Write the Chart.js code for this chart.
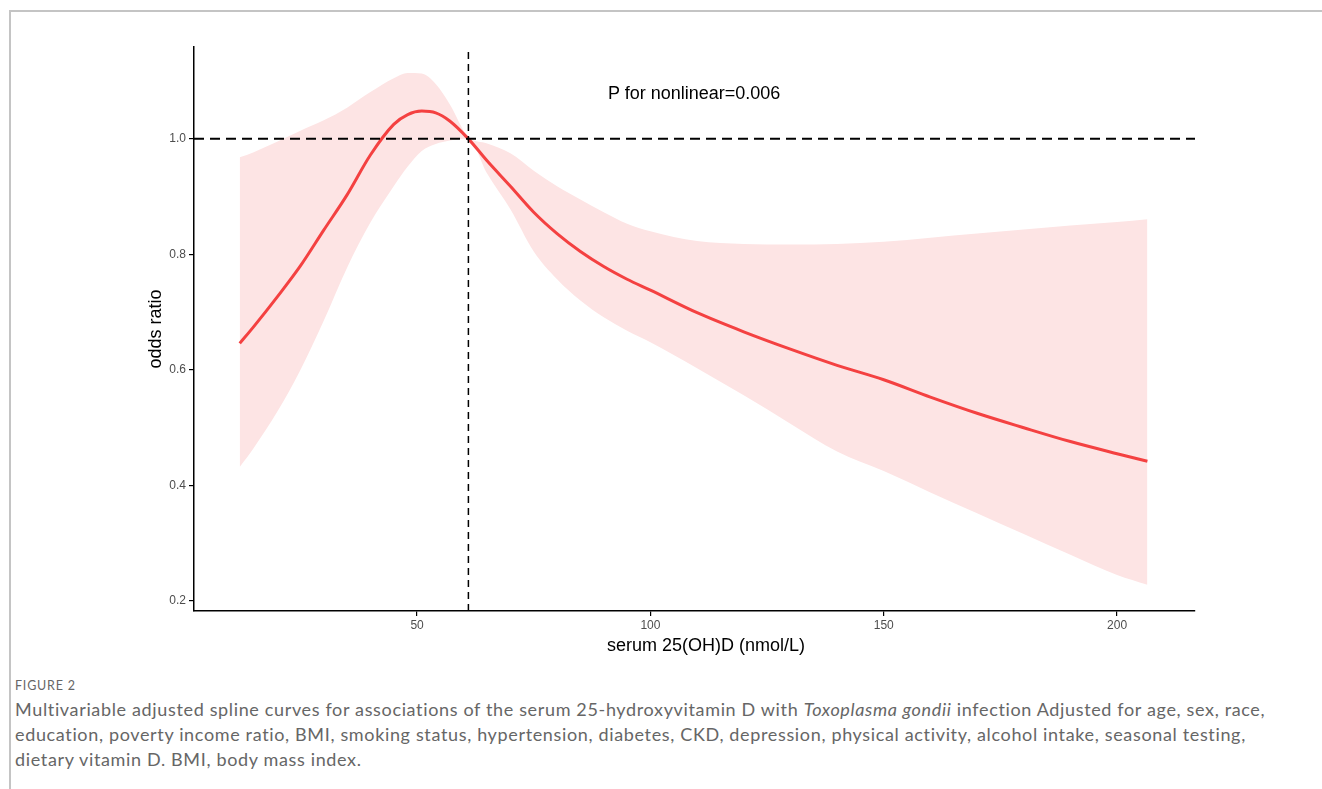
<!DOCTYPE html>
<html>
<head>
<meta charset="utf-8">
<script src="https://cdn.jsdelivr.net/npm/chart.js@4"></script>
<style>
  body { margin: 0; background: #fff; }
  #frame { position: absolute; left: 9px; top: 10px; width: 1400px; height: 900px;
           border-top: 2px solid #c4c4c4; border-left: 2px solid #c4c4c4; }
  #wrap { position: absolute; left: 0; top: 0; width: 1322px; height: 660px; }
  #note { position: absolute; left: 608px; top: 83px; font: 18px/20px "Liberation Sans", Arial, sans-serif; color: #000; }
  #xtitle { position: absolute; left: 506px; width: 400px; top: 635px; text-align: center;
            font: 18px/20px "Liberation Sans", Arial, sans-serif; color: #000; }
  #caption { position: absolute; left: 15px; top: 675px; font-family: Lato, sans-serif; color: #666; }
  #caption .fig { font-size: 12.5px; letter-spacing: 0.8px; line-height: 22px; }
  #caption .txt { font-size: 18px; letter-spacing: 0.65px; line-height: 25px; white-space: nowrap; }
</style>
</head>
<body>
<div id="frame"></div>
<div id="wrap"><canvas id="chart" width="1322" height="660"></canvas></div>
<div id="note">P for nonlinear=0.006</div>
<div id="xtitle">serum 25(OH)D (nmol/L)</div>
<div id="caption">
  <div class="fig">FIGURE 2</div>
  <div class="txt">Multivariable adjusted spline curves for associations of the serum 25-hydroxyvitamin D with <i>Toxoplasma gondii</i> infection Adjusted for age, sex, race,<br>education, poverty income ratio, BMI, smoking status, hypertension, diabetes, CKD, depression, physical activity, alcohol intake, seasonal testing,<br>dietary vitamin D. BMI, body mass index.</div>
</div>
<script>
// serum 25(OH)D values
const vitD = [12, 15, 20, 25, 30, 35, 40, 45, 48, 51, 54, 57, 61, 65, 70, 75, 80, 85, 90, 95, 100,
              110, 120, 130, 140, 150, 160, 170, 180, 190, 200, 206.5];
// odds ratio curve
const oddsRatio = [0.646, 0.675, 0.726, 0.780, 0.842, 0.903, 0.972, 1.025, 1.042, 1.048, 1.045, 1.031, 1.000,
                   0.962, 0.918, 0.873, 0.836, 0.805, 0.779, 0.757, 0.738,
                   0.699, 0.666, 0.636, 0.608, 0.583, 0.553, 0.525, 0.500, 0.476, 0.455, 0.442];
// 95% CI
const upperCI = [0.968, 0.977, 0.995, 1.014, 1.032, 1.054, 1.081, 1.105, 1.114, 1.113, 1.095, 1.060, 1.003,
                 0.992, 0.975, 0.945, 0.918, 0.895, 0.873, 0.853, 0.840,
                 0.823, 0.818, 0.817, 0.818, 0.822, 0.829, 0.836, 0.843, 0.850, 0.856, 0.861];
const lowerCI = [0.432, 0.465, 0.527, 0.600, 0.685, 0.777, 0.855, 0.918, 0.952, 0.979, 0.991, 0.997, 1.000,
                 0.940, 0.878, 0.805, 0.757, 0.720, 0.691, 0.668, 0.648,
                 0.603, 0.556, 0.507, 0.459, 0.425, 0.388, 0.352, 0.316, 0.280, 0.245, 0.228];
const refX = 61;      // reference value
const refY = 1.0;
const xMin = 2.2, xMax = 216.7;
const yMin = 0.1827, yMax = 1.159;
const yTicks = [0.2, 0.4, 0.6, 0.8, 1.0];
const xTicks = [50, 100, 150, 200];

const pts = ys => vitD.map((x, i) => ({ x: x, y: ys[i] }));

new Chart(document.getElementById('chart'), {
    type: 'line',
    data: {
        datasets: [
            {   // horizontal ref line
                data: [{ x: xMin, y: refY }, { x: xMax, y: refY }],
                borderColor: '#000', borderWidth: 2, borderDash: [10, 6],
                pointRadius: 0, fill: false
            },
            {   // vertical ref line
                data: [{ x: refX, y: yMin }, { x: refX, y: yMax }],
                borderColor: '#000', borderWidth: 1.5, borderDash: [7, 5],
                pointRadius: 0, fill: false
            },
            {
                data: pts(oddsRatio),
                borderColor: '#f44141', borderWidth: 3,
                pointRadius: 0, fill: false, cubicInterpolationMode: 'monotone'
            },
            {
                data: pts(upperCI),
                borderWidth: 0, borderColor: 'rgba(0,0,0,0)',
                pointRadius: 0, fill: false, cubicInterpolationMode: 'monotone'
            },
            {
                data: pts(lowerCI),
                borderWidth: 0, borderColor: 'rgba(0,0,0,0)',
                backgroundColor: '#fde4e4',
                pointRadius: 0, fill: '-1', cubicInterpolationMode: 'monotone'
            }
        ]
    },
    options: {
        responsive: false,
        animation: false,
        layout: { padding: { left: 141, right: 127, top: 47, bottom: 0 } },
        plugins: { legend: { display: false }, tooltip: { enabled: false } },
        scales: {
            x: {
                type: 'linear', min: xMin, max: xMax,
                afterFit: s => { s.height = 49; },
                afterBuildTicks: s => { s.ticks = xTicks.map(v => ({ value: v })); },
                grid: { drawOnChartArea: false, drawTicks: true, tickLength: 5, color: '#000', lineWidth: 1.2 },
                border: { display: true, color: '#000', width: 1.5 },
                ticks: { color: '#4d4d4d', padding: 2, font: { family: 'Liberation Sans', size: 12 } },
                title: { display: false }
            },
            y: {
                type: 'linear', min: yMin, max: yMax,
                afterFit: s => { s.width = 53; },
                afterBuildTicks: s => { s.ticks = yTicks.map(v => ({ value: v })); },
                grid: { drawOnChartArea: false, drawTicks: true, tickLength: 5, color: '#000', lineWidth: 1.2 },
                border: { display: true, color: '#000', width: 1.5 },
                ticks: { color: '#4d4d4d', padding: 3, font: { family: 'Liberation Sans', size: 12 },
                         callback: v => v.toFixed(1) },
                title: { display: true, text: 'odds ratio', color: '#000',
                         font: { family: 'Liberation Sans', size: 18 }, padding: { top: 4, bottom: 4 } }
            }
        }
    }
});
</script>
</body>
</html>
